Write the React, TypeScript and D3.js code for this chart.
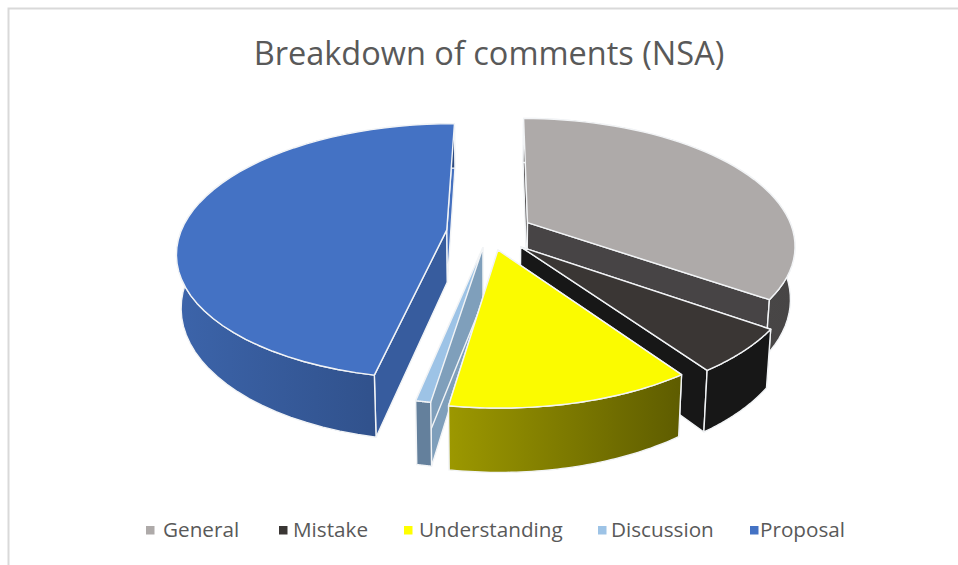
import React from "react";
import * as d3 from "d3";

const title = "Breakdown of comments (NSA)";
const categories = ["General", "Mistake", "Understanding", "Discussion", "Proposal"];
const shares = [34.6, 5.55, 12.23, 0.75, 46.87];
const explosions = [0.165, 0.165, 0.145, 0.125, 0.16];

const topColors = ["#aeaaa9", "#3a3634", "#fbfb00", "#9dc3e6", "#4472c4"];
const legendColors = ["#aeaaa9", "#3a3634", "#ffff00", "#9dc3e6", "#4472c4"];
const wallStartColors = ["#474445", "#171717", "#6b6900", "#7f9fbb", "#375c9e"];
const wallEndColors = ["#474445", "#171717", "#6b6900", "#7f9fbb", "#4470bf"];
const outerStops = [
  ["#4f4d4d", "#474545"],
  ["#171717", "#171717"],
  ["#9c9800", "#5e5c00"],
  ["#64809c", "#64809c"],
  ["#3c64aa", "#2c4a80"],
];
const drawOrder = [4, 0, 1, 3, 2];
const legendTextX = [163, 293, 419, 611, 760];
const legendMarkX = [146, 279, 404, 598, 750];

const W = 958, H = 565;
const CX = 489, CY = 232, RX = 266, KY = 124.7, P = 0.168, DEPTH = 52, BOTTOM_SHRINK = 0.985;

type Pt = [number, number];
const project = (X: number, Y: number, bottom = false): Pt => {
  const s = 1 / (1 - P * Y);
  const x = CX + RX * X * s;
  const y = CY + KY * Y * s;
  if (!bottom) return [x, y];
  return [CX + (x - CX) * BOTTOM_SHRINK, y + DEPTH * s];
};

const line = d3.line<Pt>();
const arcs = d3.pie<number>().sort(null).startAngle((0.4 * Math.PI) / 180).endAngle((360.4 * Math.PI) / 180)(shares);

function slice(i: number) {
  const a = arcs[i];
  const mid = (a.startAngle + a.endAngle) / 2;
  const ox = explosions[i] * Math.sin(mid), oy = -explosions[i] * Math.cos(mid);
  const angle = d3.scaleLinear().domain([0, 48]).range([a.startAngle, a.endAngle]);
  const disc = d3.range(49).map((k) => [ox + Math.sin(angle(k)), oy - Math.cos(angle(k))] as Pt);
  const top = disc.map(([X, Y]) => project(X, Y));
  const bot = disc.map(([X, Y]) => project(X, Y, true));
  const apexT = project(ox, oy), apexB = project(ox, oy, true);
  return {
    top: line([apexT, ...top])! + "Z",
    outer: line([...top, ...[...bot].reverse()])! + "Z",
    wallStart: line([apexT, top[0], bot[0], apexB])! + "Z",
    wallEnd: line([apexT, top[48], bot[48], apexB])! + "Z",
    x0: d3.min(top, (d) => d[0])!,
    x1: d3.max(top, (d) => d[0])!,
  };
}

export default function App() {
  const slices = categories.map((_, i) => slice(i));
  return (
    <svg width={W} height={H} style={{ position: "fixed", left: 0, top: 0, display: "block", background: "#fff" }}>
      <defs>
        {slices.map((s, i) => (
          <linearGradient key={i} id={`outer${i}`} gradientUnits="userSpaceOnUse" x1={s.x0} x2={s.x1} y1={0} y2={0}>
            <stop offset="0" stopColor={outerStops[i][0]} />
            <stop offset="1" stopColor={outerStops[i][1]} />
          </linearGradient>
        ))}
      </defs>
      <path d={`M${W},8.5H8.5V${H}`} fill="none" stroke="#d9d9d9" strokeWidth={2} />
      <text x={489} y={65} textAnchor="middle" fontFamily="'Open Sans'" fontSize={32.5} fill="#595959">
        {title}
      </text>
      {drawOrder.map((i) => {
        const s = slices[i];
        const edge = { stroke: "#f2f4f6", strokeWidth: 1.4, strokeLinejoin: "round" as const };
        return (
          <g key={i}>
            <path d={s.wallStart} fill={wallStartColors[i]} {...edge} />
            <path d={s.wallEnd} fill={wallEndColors[i]} {...edge} />
            <path d={s.outer} fill={`url(#outer${i})`} {...edge} />
            <path d={s.top} fill={topColors[i]} {...edge} />
          </g>
        );
      })}
      {categories.map((c, i) => (
        <g key={c}>
          <rect x={legendMarkX[i]} y={526} width={8.5} height={8.5} fill={legendColors[i]} />
          <text x={legendTextX[i]} y={537} fontFamily="'Open Sans'" fontSize={20.7} fill="#595959">
            {c}
          </text>
        </g>
      ))}
    </svg>
  );
}
